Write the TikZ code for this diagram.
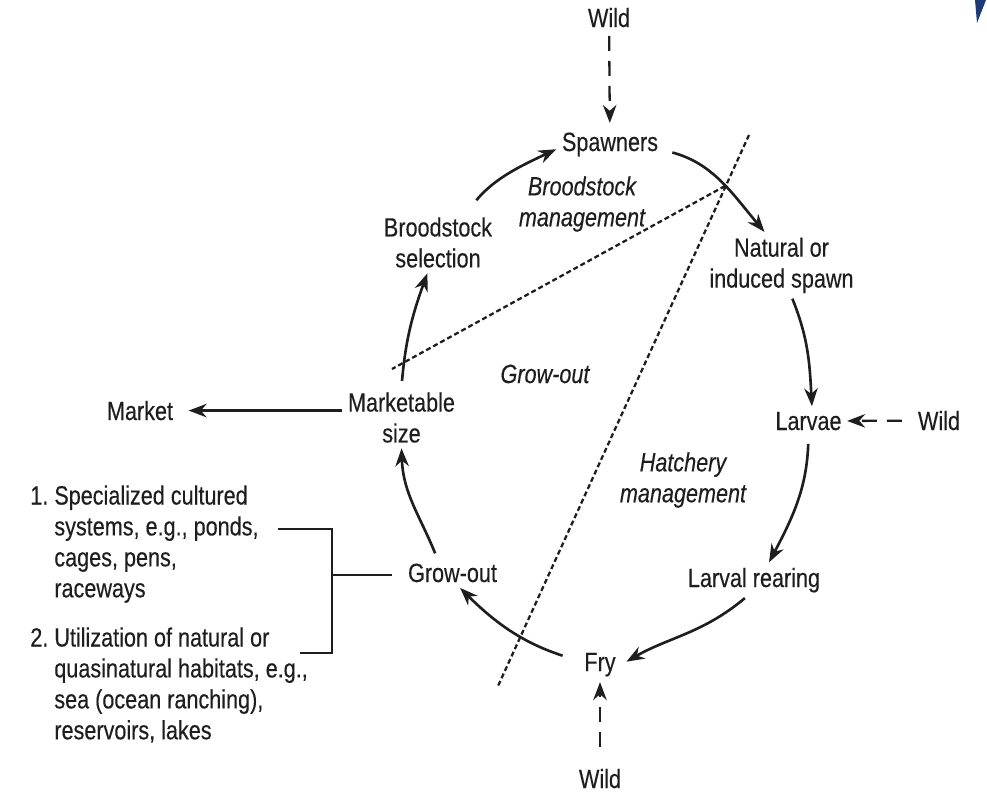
\documentclass[tikz,border=0pt]{standalone}
\usepackage{fontspec}
\setmainfont{Liberation Sans}[FakeStretch=0.82,FakeBold=0.3]
\usetikzlibrary{arrows.meta}
\definecolor{ink}{RGB}{30,30,30}
\definecolor{slideblue}{RGB}{28,58,120}
\newcommand\ind{\hphantom{1.\ }}
\frenchspacing

\begin{document}
\begin{tikzpicture}[x=0.02cm,y=-0.02cm,
  every node/.style={font=\fontsize{15}{17.6}\selectfont,text=ink,inner sep=3pt},
  stage/.style={align=center},
  note/.style={align=center,font=\fontsize{15}{17.6}\selectfont\itshape},
  arr/.style={-{Stealth[length=0.36cm,width=0.27cm]},line width=1.5pt,draw=ink},
  wildarr/.style={arr,line width=1.3pt,dash pattern=on 0.3cm off 0.2cm},
  zone/.style={line width=1.3pt,draw=ink,dash pattern=on 0.1cm off 0.06cm},
  brk/.style={line width=1.2pt,draw=ink}
]
  \useasboundingbox (0,0) rectangle (987,792);
  \fill[slideblue] (975,0) -- (986,0) -- (977,23) -- cycle;

  \node[anchor=base] (wtop) at (609,27)  {Wild};
  \node[anchor=base] (spw)  at (610,151) {Spawners};
  \node[note]        (bsm)  at (582,204) {Broodstock\\management};
  \node[stage]       (sel)  at (438,242.5) {Broodstock\\selection};
  \node[stage]       (nat)  at (781.5,265.3) {Natural or\\induced spawn};
  \node[note,anchor=base] (gro) at (545,383) {Grow-out};
  \node[anchor=base] (mkt)  at (140,420) {Market};
  \node[stage]       (msz)  at (401.5,417.6) {Marketable\\size};
  \node[anchor=base] (lar)  at (808.5,430) {Larvae};
  \node[anchor=base] (wrt)  at (939,430) {Wild};
  \node[note]        (hat)  at (683,480) {Hatchery\\management};
  \node[anchor=base] (lrr)  at (754,587) {Larval rearing};
  \node[anchor=base] (fry)  at (600,671) {Fry};
  \node[anchor=base] (wbot) at (600,788) {Wild};
  \node[anchor=base] (grw)  at (452.5,582) {Grow-out};
  \node[anchor=north west,align=left] (lst1) at (24.7,479.8) {1. Specialized cultured\\\ind systems, e.g., ponds,\\\ind cages, pens,\\\ind raceways};
  \node[anchor=north west,align=left] (lst2) at (24.7,621.8) {2. Utilization of natural or\\\ind quasinatural habitats, e.g.,\\\ind sea (ocean ranching),\\\ind reservoirs, lakes};

  \draw[zone] (749,135) -- (498,686);
  \draw[zone] (725,186) -- (392,369);

  \draw[arr,shorten <=0.12cm] (msz.north) to[out=85,in=-110] (sel.-109);
  \draw[arr,shorten <=0.3cm] (sel.47) to[out=50,in=205] (spw.185);
  \draw[arr,shorten <=0.18cm] (spw.-6) to[out=-15,in=130] (nat.117);
  \draw[arr] (nat.-72) to[out=-68,in=93] (lar.77);
  \draw[arr,shorten <=0.16cm] (lar.south) to[out=-92,in=62] (lrr.50);
  \draw[arr,shorten >=0.12cm] (lrr.-117) to[out=-140,in=30] (fry.east);
  \draw[arr,shorten <=0.34cm] (fry.170) to[out=162,in=-45] (grw.-63);
  \draw[arr,shorten <=0.1cm] (grw.136) to[out=112,in=-88] (msz.south);
  \draw[arr,shorten >=0.2cm] (msz.west |- mkt.east) -- (mkt.east);

  \draw[wildarr,shorten <=0.06cm,shorten >=0.08cm] (wtop) -- (spw);
  \draw[wildarr,shorten <=0.21cm] (wrt) -- (lar);
  \draw[wildarr,shorten <=0.32cm] (wbot) -- (fry);

  \coordinate (b1) at (278,529);
  \coordinate (b2) at (300,653);
  \coordinate (jn) at (332,575);
  \draw[brk] (b1) -| (jn);
  \draw[brk] (b2) -| (jn);
  \draw[brk,shorten >=0.2cm] (jn) -- (grw.west |- jn);
\end{tikzpicture}
\end{document}
